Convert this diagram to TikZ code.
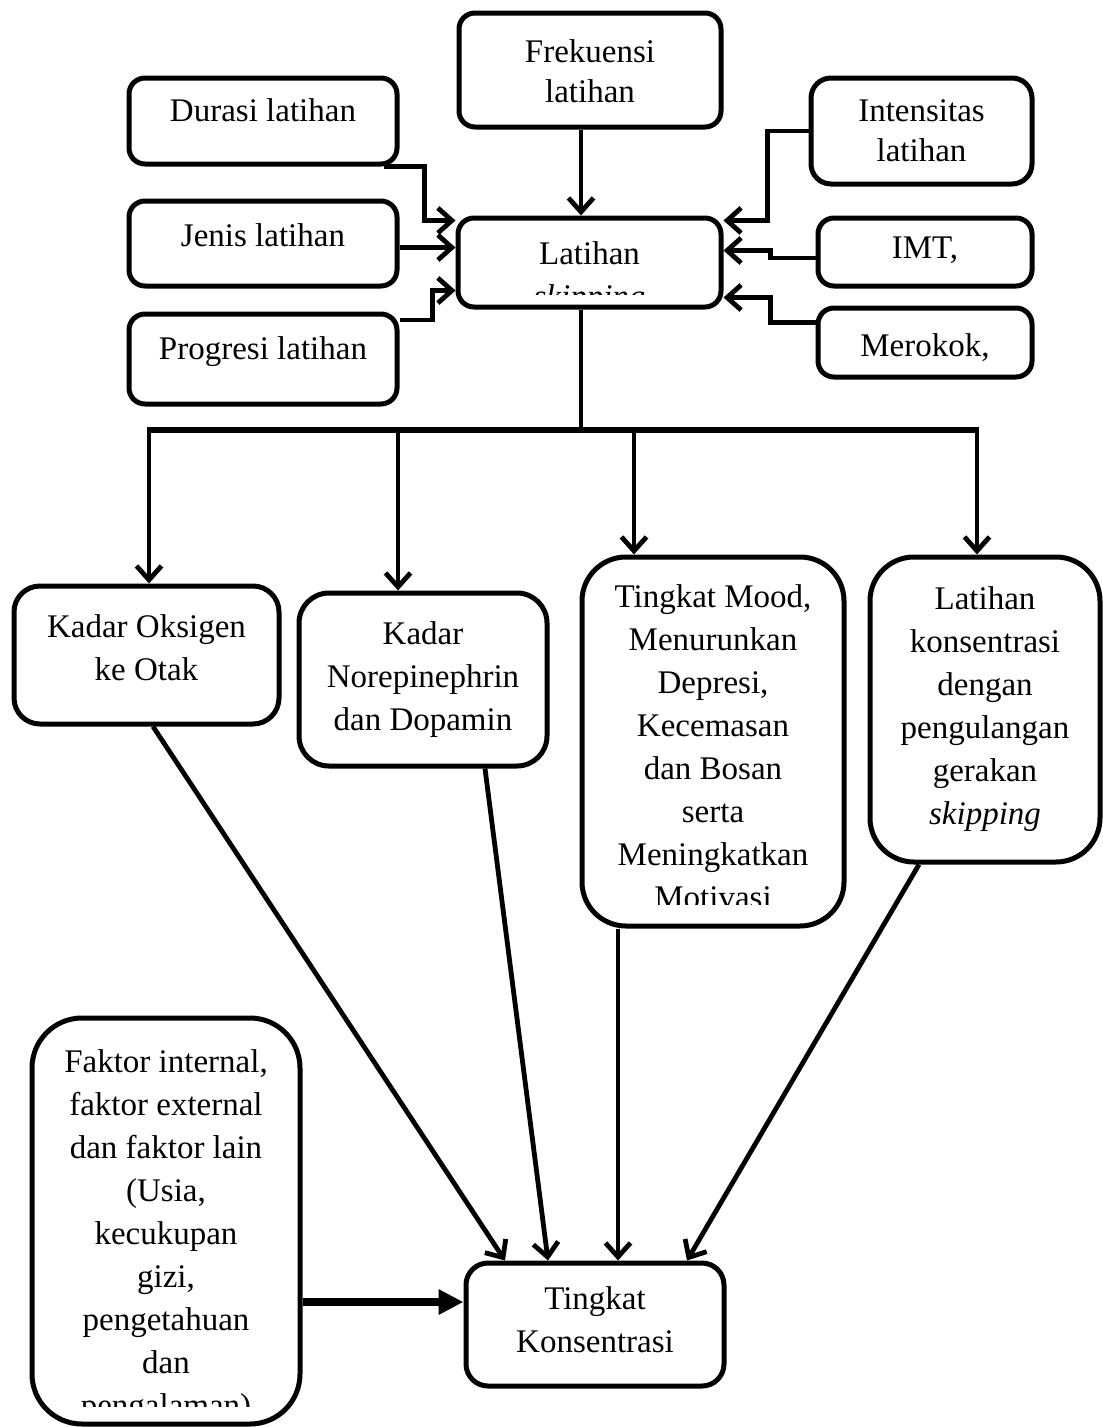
\documentclass[tikz,border=0pt]{standalone}
\usepackage{fontspec}
\setmainfont{Liberation Serif}
\usetikzlibrary{arrows.meta,calc,positioning}
\newcommand{\boxfont}{\fontsize{33}{43}\selectfont}
\newcommand{\topfont}{\fontsize{33}{40}\selectfont}
\tikzset{
  box/.style={draw=black,line width=5pt,rounded corners=16pt,inner sep=0pt},
  bigbox/.style={box,rounded corners=44pt},
  txt/.style={anchor=north,align=center,inner sep=0pt,font=\boxfont},
  toptxt/.style={txt,font=\topfont},
  link/.style={black,line width=4.8pt},
  flow/.style={link,-{Straight Barb[length=14pt,width=25pt]}},
  bus/.style={black,line width=6.5pt},
  push/.style={black,line width=8pt,-{Triangle[length=25pt,width=24pt]}},
}

\begin{document}
\begin{tikzpicture}[x=1pt,y=-1pt]
  \path[use as bounding box] (0,0) rectangle (1103,1427);

  \node[box,minimum width=262,minimum height=114] (frek) at (590,70) {};
  \node[box,minimum width=268,minimum height=86] (dur) at (263,121) {};
  \node[box,minimum width=268,minimum height=85] (jenis) at (263,243.5) {};
  \node[box,minimum width=268,minimum height=90] (prog) at (263,359) {};
  \node[box,minimum width=263,minimum height=89] (lat) at (589.5,262.5) {};
  \node[box,rounded corners=20pt,minimum width=221,minimum height=106] (int) at (921.5,131) {};
  \node[box,minimum width=214,minimum height=68] (imt) at (925,252) {};
  \node[box,minimum width=214,minimum height=69] (mer) at (925,342.5) {};

  \node[toptxt] (frek-t) at ([yshift=-29]frek.north) {Frekuensi\\latihan};
  \node[txt] (dur-t) at ([yshift=-23]dur.north) {Durasi latihan};
  \node[txt] (jenis-t) at ([yshift=-25]jenis.north) {Jenis latihan};
  \node[txt] (prog-t) at ([yshift=-25]prog.north) {Progresi latihan};
  \node[toptxt] (int-t) at ([yshift=-24]int.north) {Intensitas\\latihan};
  \node[txt] (imt-t) at ([yshift=-21]imt.north) {IMT,};
  \node[txt] (mer-t) at ([yshift=-28]mer.north) {Merokok,};
  \begin{scope}
    \clip ([yshift=15]lat.south west) rectangle (lat.north east);
    \node[txt] (lat-t) at ([yshift=-26]lat.north) {Latihan\\\textit{skipping}};
  \end{scope}

  \node[box,rounded corners=26pt,minimum width=265,minimum height=138] (ko) at (146.5,655) {};
  \node[box,rounded corners=30pt,minimum width=248,minimum height=173] (no) at (423,679.5) {};
  \node[bigbox,minimum width=262,minimum height=369] (mood) at (713,741.5) {};
  \node[bigbox,minimum width=230,minimum height=305] (kons) at (985,709.5) {};

  \node[txt] (ko-t) at ([yshift=-31]ko.north) {Kadar Oksigen\\ke Otak};
  \node[txt] (no-t) at ([yshift=-31]no.north) {Kadar\\Norepinephrin\\dan Dopamin};
  \node[txt] (kons-t) at ([yshift=-32]kons.north)
    {Latihan\\konsentrasi\\dengan\\pengulangan\\gerakan\\\textit{skipping}};
  \begin{scope}
    \clip ([yshift=24]mood.south west) rectangle (mood.north east);
    \node[txt] (mood-t) at ([yshift=-30]mood.north)
      {Tingkat Mood,\\Menurunkan\\Depresi,\\Kecemasan\\dan Bosan\\serta\\Meningkatkan\\Motivasi};
  \end{scope}

  \node[bigbox,rounded corners=50pt,minimum width=268,minimum height=406] (fak) at (166,1221) {};
  \node[box,rounded corners=22pt,minimum width=258,minimum height=123] (tk) at (595,1324.5) {};

  \node[txt] (tk-t) at ([yshift=-26]tk.north) {Tingkat\\Konsentrasi};
  \begin{scope}
    \clip ([yshift=20]fak.south west) rectangle (fak.north east);
    \node[txt] (fak-t) at ([yshift=-34]fak.north)
      {Faktor internal,\\faktor external\\dan faktor lain\\(Usia,\\kecukupan\\gizi,\\pengetahuan\\dan\\pengalaman)};
  \end{scope}

  \coordinate (trunk) at (581,430);
  \coordinate (tapa) at (149,430);
  \coordinate (tapb) at (398,430);
  \coordinate (tapc) at (634,430);
  \coordinate (tapd) at (977,430);

  \draw[flow] (frek.south -| trunk) -- (lat.north -| trunk);
  \draw[flow] ([xshift=-16]dur.south east) -- ++(41,0) |- ([yshift=42]lat.west);
  \draw[flow] ([yshift=-4]jenis.east) -- ([yshift=-4]jenis.east -| lat.west);
  \draw[flow] ([yshift=39]prog.east) -- ++(33,0) |- ([yshift=-28]lat.west);
  \draw[flow] (int.west) -- ++(-41,0) |- ([yshift=42]lat.east);
  \draw[flow] ([yshift=-6]imt.west) -- ++(-45,0) |- ([yshift=12]lat.east);
  \draw[flow] ([yshift=20]mer.west) -- ++(-45,0) |- ([yshift=-35]lat.east);

  \draw[link] (lat.south -| trunk) -- (trunk);
  \draw[bus] ([xshift=-2.4]tapa) -- ([xshift=2.4]tapd);
  \foreach \t/\n in {tapa/ko,tapb/no,tapc/mood,tapd/kons}
    \draw[flow] (\t) -- (\t |- \n.north);

  \draw[flow] ([xshift=6.5]ko.south) -- ([xshift=-90]tk.north);
  \draw[flow] ([xshift=62]no.south) -- ([xshift=-47]tk.north);
  \draw[flow] ([xshift=-95]mood.south) -- ([xshift=23]tk.north);
  \draw[flow] ([xshift=-66]kons.south) -- ([xshift=92]tk.north);
  \draw[push] ([yshift=-81]fak.east) -- ([yshift=-81]fak.east -| tk.west);
\end{tikzpicture}
\end{document}
